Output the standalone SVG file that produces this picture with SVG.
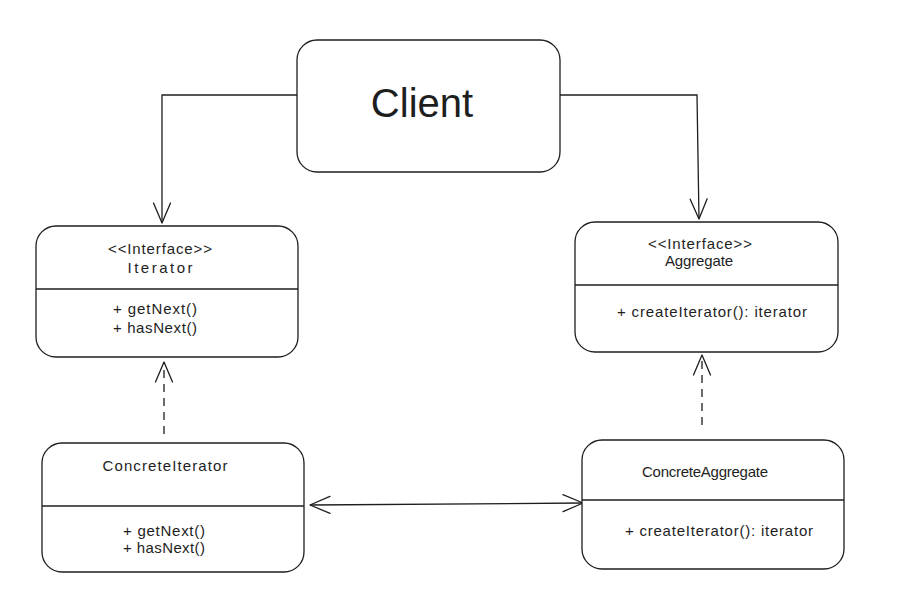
<svg xmlns="http://www.w3.org/2000/svg" width="903" height="600" viewBox="0 0 903 600">
  <defs>
    <style>
      .box { fill: #ffffff; stroke: #1e1e1e; stroke-width: 1.3; }
      .rule { stroke: #1e1e1e; stroke-width: 1.3; fill: none; }
      .txt { font-family: "Liberation Sans", "DejaVu Sans", sans-serif; font-size: 15px; fill: #1e1e1e; text-anchor: middle; }
      .title { font-family: "Liberation Sans", "DejaVu Sans", sans-serif; font-size: 40px; fill: #1e1e1e; text-anchor: middle; }
      .wire { stroke: #1e1e1e; stroke-width: 1.3; fill: none; }
      .dash { stroke-dasharray: 8 6; }
    </style>
    <marker id="open" markerUnits="userSpaceOnUse" markerWidth="26" markerHeight="22" viewBox="-23 -11 26 22" refX="0" refY="0" orient="auto-start-reverse">
      <path d="M-20,-8.5 L0,0 L-20,8.5" fill="none" stroke="#1e1e1e" stroke-width="1.3" stroke-linecap="round" stroke-linejoin="round"/>
    </marker>
  </defs>

  <rect width="903" height="600" fill="#ffffff"/>

  <g id="connectors">
    <path class="wire" d="M297,95 L162,95 L162,223" marker-end="url(#open)"/>
    <path class="wire" d="M560,95 L697,95 L699,219" marker-end="url(#open)"/>
    <path class="wire dash" d="M164,434 L164,362" marker-end="url(#open)"/>
    <path class="wire dash" d="M702,425 L702,355" marker-end="url(#open)"/>
    <path class="wire" d="M310,505 L583,503" marker-start="url(#open)" marker-end="url(#open)"/>
  </g>

  <g id="client">
    <rect class="box" x="297" y="40" width="263" height="132" rx="20" ry="20"/>
    <text class="title" x="422" y="117">Client</text>
  </g>

  <g id="iterator">
    <rect class="box" x="36" y="226" width="262" height="131" rx="20" ry="20"/>
    <line class="rule" x1="36" y1="289" x2="298" y2="289"/>
    <text class="txt" x="160" y="254" textLength="104" lengthAdjust="spacing">&lt;&lt;Interface&gt;&gt;</text>
    <text class="txt" x="160" y="273" textLength="65" lengthAdjust="spacing">Iterator</text>
    <text class="txt" x="155" y="314" textLength="84" lengthAdjust="spacing">+ getNext()</text>
    <text class="txt" x="155" y="333" textLength="84" lengthAdjust="spacing">+ hasNext()</text>
  </g>

  <g id="aggregate">
    <rect class="box" x="575" y="222" width="263" height="130" rx="20" ry="20"/>
    <line class="rule" x1="575" y1="285" x2="838" y2="285"/>
    <text class="txt" x="700" y="249" textLength="104" lengthAdjust="spacing">&lt;&lt;Interface&gt;&gt;</text>
    <text class="txt" x="699" y="266" textLength="68" lengthAdjust="spacing">Aggregate</text>
    <text class="txt" x="712" y="317" textLength="190" lengthAdjust="spacing">+ createIterator(): iterator</text>
  </g>

  <g id="concrete-iterator">
    <rect class="box" x="42" y="443" width="262" height="129" rx="20" ry="20"/>
    <line class="rule" x1="42" y1="506" x2="304" y2="506"/>
    <text class="txt" x="165" y="471" textLength="125" lengthAdjust="spacing">ConcreteIterator</text>
    <text class="txt" x="164" y="536" textLength="82" lengthAdjust="spacing">+ getNext()</text>
    <text class="txt" x="164" y="553" textLength="82" lengthAdjust="spacing">+ hasNext()</text>
  </g>

  <g id="concrete-aggregate">
    <rect class="box" x="582" y="440" width="262" height="129" rx="20" ry="20"/>
    <line class="rule" x1="582" y1="500" x2="844" y2="500"/>
    <text class="txt" x="705" y="477" textLength="126" lengthAdjust="spacing">ConcreteAggregate</text>
    <text class="txt" x="719" y="536" textLength="188" lengthAdjust="spacing">+ createIterator(): iterator</text>
  </g>
</svg>
